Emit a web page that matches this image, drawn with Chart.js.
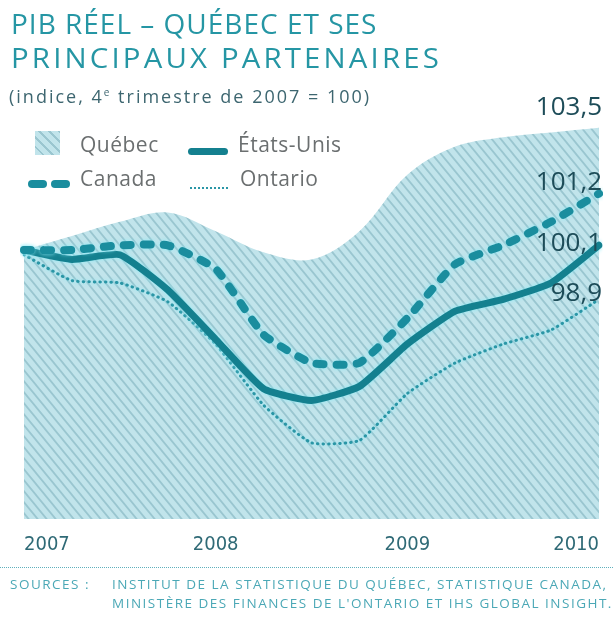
<!DOCTYPE html>
<html lang="fr">
<head>
<meta charset="utf-8">
<script src="https://cdn.jsdelivr.net/npm/chart.js@4.4.1/dist/chart.umd.min.js"></script>
<style>
  body { margin: 0; background: #fff; }
  #wrap { position: relative; width: 613px; height: 617px; overflow: hidden; }
  #chart { position: absolute; left: 0; top: 0; }
  .txt { position: absolute; white-space: nowrap; }
  .title { left: 11px; font: 28px/33px "Open Sans", sans-serif; color: #2596a4; transform-origin: 0 0; }
  #sub { left: 9px; top: 82px; font: 18px/20px "Open Sans", sans-serif; color: #3d6670; letter-spacing: 2px; }
  #sub sup { font-size: 10px; }
  .leg { position: absolute; font: 21px/22px "Open Sans", sans-serif; color: #6b6f70; letter-spacing: 0.5px; }
  .sw { position: absolute; }
  #sep { position: absolute; left: 0; top: 567px; width: 613px; border-top: 1px dotted #5fb0bd; }
  .src { position: absolute; font: 13.5px/15px "Open Sans", sans-serif; color: #4ba8b6; letter-spacing: 1.5px; }
</style>
</head>
<body>
<div id="wrap">
  <canvas id="chart" width="613" height="617"></canvas>
  <div class="txt title" style="top:7px;letter-spacing:1px;">PIB RÉEL – QUÉBEC ET SES</div>
  <div class="txt title" style="top:41px;letter-spacing:3px;transform:scaleX(1.05);">PRINCIPAUX PARTENAIRES</div>
  <div class="txt" id="sub">(indice, 4<sup>e</sup> trimestre de 2007 = 100)</div>

  <div class="sw" style="left:35px;top:131px;width:25px;height:24px;background:repeating-linear-gradient(45deg,#c1e4eb 0 5px,#9ac6d0 5px 7px);"></div>
  <div class="leg" style="left:80px;top:133px;">Québec</div>
  <div class="sw" style="left:188px;top:148px;width:40px;height:7px;border-radius:4px;background:#14808f;"></div>
  <div class="leg" style="left:238px;top:133px;">États-Unis</div>
  <div class="sw" style="left:28px;top:180px;width:19px;height:8px;border-radius:4px;background:#1a8d9e;"></div>
  <div class="sw" style="left:51px;top:180px;width:19px;height:8px;border-radius:4px;background:#1a8d9e;"></div>
  <div class="leg" style="left:80px;top:167px;">Canada</div>
  <div class="sw" style="left:190px;top:187px;width:38px;border-top:2px dotted #2a96a6;"></div>
  <div class="leg" style="left:240px;top:167px;">Ontario</div>

  <div id="sep"></div>
  <div class="src" style="left:10px;top:577px;">SOURCES :</div>
  <div class="src" style="left:112px;top:577px;">INSTITUT DE LA STATISTIQUE DU QUÉBEC, STATISTIQUE CANADA,</div>
  <div class="src" style="left:112px;top:596px;">MINISTÈRE DES FINANCES DE L'ONTARIO ET IHS GLOBAL INSIGHT.</div>
</div>
<script>
// quarters, 4e trimestre 2007 -> 4e trimestre 2010
const quarters = ['2007T4', '2008T1', '2008T2', '2008T3', '2008T4', '2009T1', '2009T2',
                  '2009T3', '2009T4', '2010T1', '2010T2', '2010T3', '2010T4'];
const yearLabels = ['2007', '', '', '', '2008', '', '', '', '2009', '', '', '', '2010'];

const quebec  = [100.0, 100.3, 100.6, 100.8, 100.4, 99.95, 99.8, 100.4, 101.6, 102.2, 102.4, 102.5, 102.6];
const canada  = [100.0, 100.0, 100.1, 100.1, 99.6, 98.2, 97.6, 97.6, 98.55, 99.7, 100.1, 100.6, 101.2];
const usa     = [100.0, 99.8, 99.9, 99.15, 98.1, 97.05, 96.8, 97.1, 98.0, 98.7, 98.95, 99.3, 100.1];
const ontario = [99.9, 99.35, 99.3, 98.9, 98.0, 96.7, 95.9, 95.95, 96.95, 97.6, 98.0, 98.3, 98.95];

// final values printed at the right end
const endLabels = { quebec: '103,5', canada: '101,2', usa: '100,1', ontario: '98,9' };

// hatched fill for the Québec area
function makeHatch() {
    const c = document.createElement('canvas');
    c.width = 9; c.height = 11;
    const g = c.getContext('2d');
    g.fillStyle = '#c1e4eb';
    g.fillRect(0, 0, 9, 11);
    g.strokeStyle = '#9ac6d0';
    g.lineWidth = 1.8;
    g.beginPath();
    g.moveTo(-9, -11); g.lineTo(18, 22);
    g.moveTo(-18, -11); g.lineTo(9, 22);
    g.moveTo(0, -11); g.lineTo(27, 22);
    g.stroke();
    return g.createPattern(c, 'repeat');
}

const ctx = document.getElementById('chart').getContext('2d');

// light halo around the lines + value labels at the end
const decor = {
    id: 'decor',
    beforeDatasetDraw(chart, args) {
        const ds = chart.data.datasets[args.index];
        if (ds.halo) {
            chart.ctx.save();
            chart.ctx.shadowColor = 'rgba(140, 235, 248, 0.95)';
            chart.ctx.shadowBlur = 4;
        }
    },
    afterDatasetDraw(chart, args) {
        const ds = chart.data.datasets[args.index];
        if (ds.halo) chart.ctx.restore();
    },
    afterDatasetsDraw(chart) {
        const c = chart.ctx;
        c.save();
        c.font = '26px "Open Sans", sans-serif';
        c.fillStyle = '#1d4c58';
        c.textAlign = 'right';
        c.textBaseline = 'middle';
        chart.data.datasets.forEach((ds, i) => {
            const pts = chart.getDatasetMeta(i).data;
            const last = pts[pts.length - 1];
            c.fillText(ds.endLabel, last.x + 3, last.y + ds.labelShift);
        });
        c.restore();
    }
};

new Chart(ctx, {
    type: 'line',
    data: {
        labels: quarters,
        datasets: [{
            label: 'Canada',
            data: canada,
            borderColor: '#1a8d9e',
            borderWidth: 8,
            borderDash: [7, 13],
            borderCapStyle: 'round',
            tension: 0.15,
            pointRadius: 0,
            fill: false,
            halo: true,
            endLabel: endLabels.canada,
            labelShift: -11
        }, {
            label: 'États-Unis',
            data: usa,
            borderColor: '#14808f',
            borderWidth: 7,
            borderCapStyle: 'round',
            tension: 0.15,
            pointRadius: 0,
            fill: false,
            halo: true,
            endLabel: endLabels.usa,
            labelShift: -2
        }, {
            label: 'Ontario',
            data: ontario,
            borderColor: '#2a96a6',
            borderWidth: 3,
            borderDash: [0.5, 5],
            borderCapStyle: 'round',
            tension: 0.15,
            pointRadius: 0,
            fill: false,
            halo: true,
            endLabel: endLabels.ontario,
            labelShift: -6
        }, {
            label: 'Québec',
            data: quebec,
            borderWidth: 0,
            backgroundColor: makeHatch(),
            tension: 0.35,
            pointRadius: 0,
            fill: 'start',
            endLabel: endLabels.quebec,
            labelShift: -20
        }]
    },
    options: {
        responsive: false,
        animation: false,
        layout: { padding: { top: 100, left: 24, right: 7, bottom: 58 } },
        plugins: { legend: { display: false }, tooltip: { enabled: false } },
        scales: {
            x: {
                grid: { display: false, drawTicks: false },
                border: { display: false },
                afterFit: (scale) => { scale.height = 40; },
                ticks: {
                    autoSkip: false,
                    maxRotation: 0,
                    align: 'inner',
                    padding: 14,
                    color: '#2f6a76',
                    font: { family: '"DejaVu Sans Condensed", sans-serif', size: 20 },
                    callback: (v, i) => yearLabels[i]
                }
            },
            y: {
                display: false,
                min: 94.28,
                max: 103.19
            }
        }
    },
    plugins: [decor]
});
</script>
</body>
</html>
